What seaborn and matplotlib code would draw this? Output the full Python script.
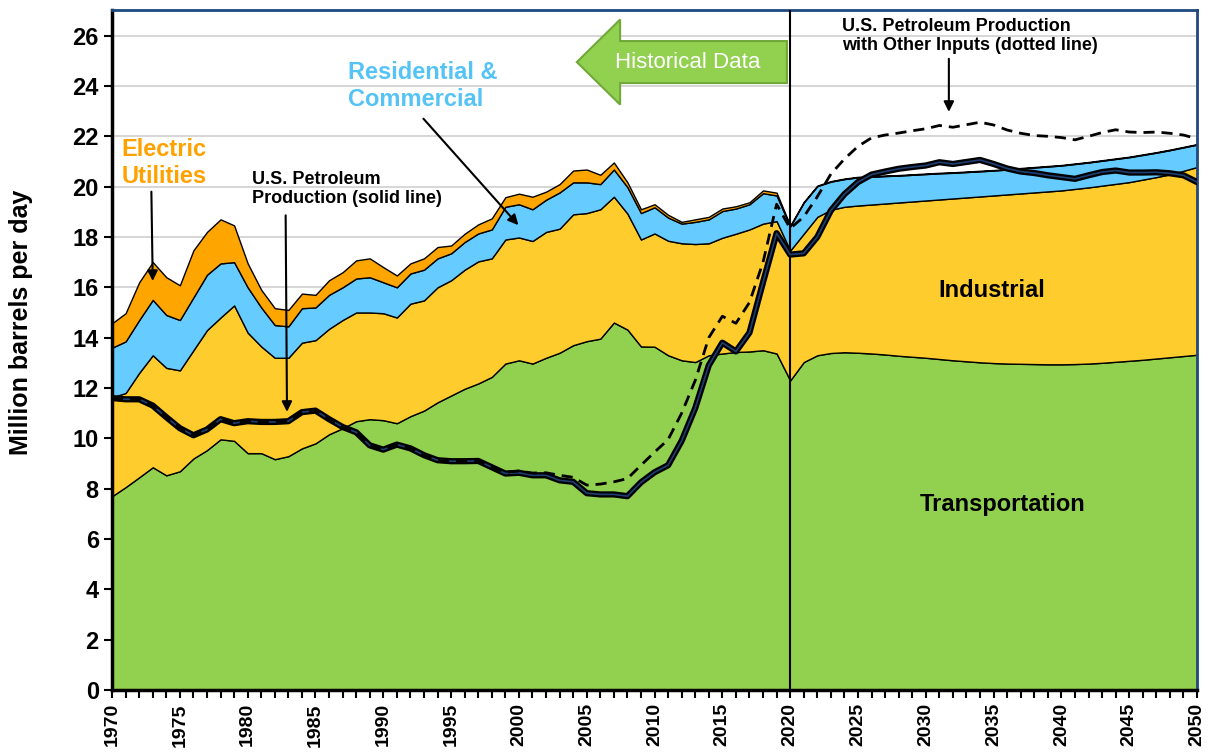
import numpy as np
import pandas as pd
import matplotlib
matplotlib.use("Agg")
import matplotlib.pyplot as plt
import seaborn as sns
from matplotlib.patches import FancyArrow

sns.set_style("white")
plt.rcParams['font.family'] = ['Liberation Sans', 'DejaVu Sans']
plt.rcParams['text.color'] = 'black'
plt.rcParams['axes.labelcolor'] = 'black'
plt.rcParams['xtick.color'] = 'black'
plt.rcParams['ytick.color'] = 'black'

years = list(range(1970, 2051))

# million barrels per day, by sector (stacked)
transportation = [7.7, 8.06, 8.45, 8.85, 8.53, 8.69, 9.2, 9.53, 9.96, 9.9,
                  9.41, 9.41, 9.17, 9.29, 9.6, 9.8, 10.16, 10.4, 10.68, 10.76,
                  10.72, 10.6, 10.88, 11.1, 11.43, 11.7, 11.97, 12.18, 12.44, 12.97,
                  13.1, 12.97, 13.2, 13.4, 13.7, 13.86, 13.96, 14.6, 14.32, 13.65,
                  13.64, 13.3, 13.1, 13.03, 13.3, 13.37, 13.43, 13.45, 13.5, 13.37,
                  12.3, 13.03, 13.3, 13.39, 13.42, 13.4, 13.37, 13.33, 13.28, 13.24,
                  13.2, 13.15, 13.1, 13.06, 13.02, 12.99, 12.97, 12.96, 12.95, 12.94,
                  12.94, 12.95, 12.97, 13.0, 13.04, 13.08, 13.12, 13.17, 13.22, 13.27,
                  13.32]
industrial = [3.93, 3.74, 4.15, 4.45, 4.27, 4.01, 4.3, 4.77, 4.84, 5.38,
              4.79, 4.24, 4.03, 3.91, 4.2, 4.1, 4.19, 4.3, 4.32, 4.24,
              4.25, 4.2, 4.47, 4.38, 4.57, 4.58, 4.73, 4.85, 4.71, 4.93,
              4.88, 4.87, 5.0, 4.93, 5.2, 5.09, 5.14, 5.0, 4.61, 4.25,
              4.5, 4.55, 4.65, 4.69, 4.45, 4.6, 4.7, 4.85, 5.03, 5.26,
              5.16, 5.1, 5.5, 5.69, 5.78, 5.85, 5.92, 6.0, 6.09, 6.17,
              6.25, 6.34, 6.43, 6.51, 6.59, 6.66, 6.72, 6.77, 6.82, 6.87,
              6.91, 6.96, 7.0, 7.04, 7.07, 7.1, 7.16, 7.21, 7.27, 7.36,
              7.46]
res_comm = [1.97, 2.05, 2.1, 2.2, 2.1, 2.0, 2.1, 2.2, 2.15, 1.72,
            1.8, 1.55, 1.3, 1.25, 1.37, 1.3, 1.35, 1.3, 1.35, 1.4,
            1.23, 1.2, 1.2, 1.22, 1.15, 1.07, 1.1, 1.11, 1.15, 1.3,
            1.32, 1.26, 1.28, 1.44, 1.27, 1.22, 1.0, 1.08, 1.05, 1.05,
            1.04, 0.92, 0.78, 0.88, 0.95, 1.06, 1.0, 1.0, 1.21, 1.02,
            0.96, 1.24, 1.22, 1.12, 1.1, 1.12, 1.1, 1.09, 1.07, 1.06,
            1.05, 1.04, 1.02, 1.01, 1.0, 0.99, 0.99, 0.99, 0.99, 0.99,
            0.99, 0.99, 0.99, 0.99, 0.99, 0.99, 0.98, 0.97, 0.96, 0.93,
            0.89]
electric = [0.97, 1.12, 1.5, 1.5, 1.5, 1.38, 1.87, 1.7, 1.75, 1.46,
            0.95, 0.7, 0.67, 0.65, 0.58, 0.5, 0.58, 0.6, 0.72, 0.75,
            0.6, 0.47, 0.4, 0.45, 0.45, 0.31, 0.33, 0.36, 0.44, 0.38,
            0.42, 0.5, 0.32, 0.33, 0.47, 0.51, 0.37, 0.28, 0.19, 0.15,
            0.12, 0.11, 0.07, 0.1, 0.1, 0.1, 0.09, 0.08, 0.11, 0.11,
            0.03] + [0.02] * 30

production = [11.6, 11.55, 11.55, 11.3, 10.84, 10.4, 10.12, 10.35, 10.76, 10.6,
              10.68, 10.65, 10.65, 10.68, 11.04, 11.1, 10.76, 10.45, 10.24, 9.72,
              9.55, 9.75, 9.6, 9.33, 9.13, 9.09, 9.09, 9.1, 8.85, 8.6,
              8.63, 8.53, 8.53, 8.33, 8.27, 7.82, 7.77, 7.77, 7.7, 8.25,
              8.65, 8.93, 9.9, 11.2, 12.9, 13.8, 13.45, 14.2, 16.2, 18.15,
              17.3, 17.35, 18.0, 19.05, 19.7, 20.18, 20.48, 20.6, 20.71, 20.78,
              20.84, 20.97, 20.9, 20.98, 21.06, 20.9, 20.72, 20.6, 20.54, 20.45,
              20.38, 20.31, 20.45, 20.58, 20.64, 20.56, 20.56, 20.57, 20.53, 20.45,
              20.18]
production_other = [11.6, 11.55, 11.55, 11.3, 10.84, 10.4, 10.12, 10.35, 10.76, 10.6,
                    10.68, 10.65, 10.65, 10.68, 11.04, 11.1, 10.76, 10.45, 10.24, 9.72,
                    9.55, 9.75, 9.6, 9.33, 9.13, 9.09, 9.09, 9.1, 8.85, 8.65,
                    8.7, 8.62, 8.63, 8.53, 8.45, 8.14, 8.18, 8.27, 8.4, 8.93,
                    9.45, 9.95, 11.0, 12.3, 14.0, 14.85, 14.57, 15.4, 17.0, 19.3,
                    18.34, 18.8, 19.6, 20.5, 21.1, 21.6, 21.94, 22.05, 22.13, 22.22,
                    22.3, 22.43, 22.36, 22.46, 22.56, 22.45, 22.25, 22.12, 22.03, 22.0,
                    21.95, 21.86, 22.0, 22.15, 22.26, 22.17, 22.15, 22.17, 22.12, 22.05,
                    21.9]

colors = ['#92D050', '#FFCC2E', '#66CCFF', '#FFA500']

df = pd.DataFrame({'year': years, 'prod': production, 'prod_other': production_other})

fig = plt.figure(figsize=(12.1, 7.53), dpi=100)
ax = fig.add_axes([0.0926, 0.0837, 0.8967, 0.9024])

ax.stackplot(years, transportation, industrial, res_comm, electric,
             colors=colors, edgecolor='black', linewidth=1.0, zorder=2)

ax.axvline(2020, color='black', lw=1.5, zorder=3)

sns.lineplot(data=df, x='year', y='prod', ax=ax, color='black', lw=4.5, zorder=4)
sns.lineplot(data=df, x='year', y='prod', ax=ax, color='#1F3F73', lw=1.2, zorder=5)
sns.lineplot(data=df, x='year', y='prod_other', ax=ax, color='black', lw=2.0,
             linestyle=(0, (4, 2.5)), zorder=6)

ax.set_xlim(1970, 2050)
ax.set_ylim(0, 27)
ax.set_yticks(np.arange(0, 27, 2))
ax.set_xticks(np.arange(1970, 2051, 5))
ax.set_xticks(np.arange(1970, 2051, 1), minor=True)
ax.grid(axis='y', color='#D0D0D0', lw=1.2)
ax.set_axisbelow(True)

ax.tick_params(axis='y', direction='out', length=6, width=1.5, labelsize=17, left=True)
ax.tick_params(axis='x', which='both', direction='out', length=6, width=1.5,
               labelsize=14, bottom=True, labelrotation=90)
for lab in ax.get_xticklabels() + ax.get_yticklabels():
    lab.set_fontweight('bold')

ax.set_xlabel('')
ax.set_ylabel('Million barrels per day', fontsize=18, fontweight='bold')
ax.yaxis.set_label_coords(-0.073, 0.541)

for s in ['left', 'bottom']:
    ax.spines[s].set_color('black')
    ax.spines[s].set_linewidth(2.5)
for s in ['top', 'right']:
    ax.spines[s].set_color('#1F497D')
    ax.spines[s].set_linewidth(2)

arrow_kw = dict(arrowstyle='-|>', color='black', lw=1.5, mutation_scale=15,
                shrinkA=0, shrinkB=0)

ax.annotate('', xy=(1973.0, 16.25), xytext=(1972.9, 19.8), arrowprops=arrow_kw, zorder=7)
ax.text(1970.7, 20.93, 'Electric\nUtilities', color='#FFA200', fontsize=17,
        fontweight='bold', ha='left', va='center', zorder=7)

ax.annotate('', xy=(1982.9, 11.05), xytext=(1982.8, 18.86), arrowprops=arrow_kw, zorder=7)
ax.text(1980.35, 19.9, 'U.S. Petroleum\nProduction (solid line)', color='black',
        fontsize=13, fontweight='bold', ha='left', va='center', zorder=7)

ax.annotate('', xy=(1999.96, 18.47), xytext=(1992.96, 22.7), arrowprops=arrow_kw, zorder=7)
ax.text(1987.4, 24.0, 'Residential &\nCommercial', color='#55C3F5', fontsize=17,
        fontweight='bold', ha='left', va='center', zorder=7)

ax.annotate('', xy=(2031.7, 22.97), xytext=(2031.7, 25.08), arrowprops=arrow_kw, zorder=7)
ax.text(2023.8, 25.98, 'U.S. Petroleum Production\nwith Other Inputs (dotted line)',
        color='black', fontsize=13, fontweight='bold', ha='left', va='center', zorder=7)

ax.text(2034.87, 15.89, 'Industrial', color='black', fontsize=17, fontweight='bold',
        ha='center', va='center', zorder=7)
ax.text(2035.67, 7.35, 'Transportation', color='black', fontsize=17, fontweight='bold',
        ha='center', va='center', zorder=7)

hist = FancyArrow(2019.76, 24.95, -15.49, 0, width=1.67, head_width=3.38,
                  head_length=3.19, length_includes_head=True,
                  fc='#92D050', ec='#71A83A', lw=1.5, zorder=7)
ax.add_patch(hist)
ax.text(2012.44, 24.95, 'Historical Data', color='white', fontsize=16,
        ha='center', va='center', zorder=8)

plt.savefig('out.png', dpi=100)
